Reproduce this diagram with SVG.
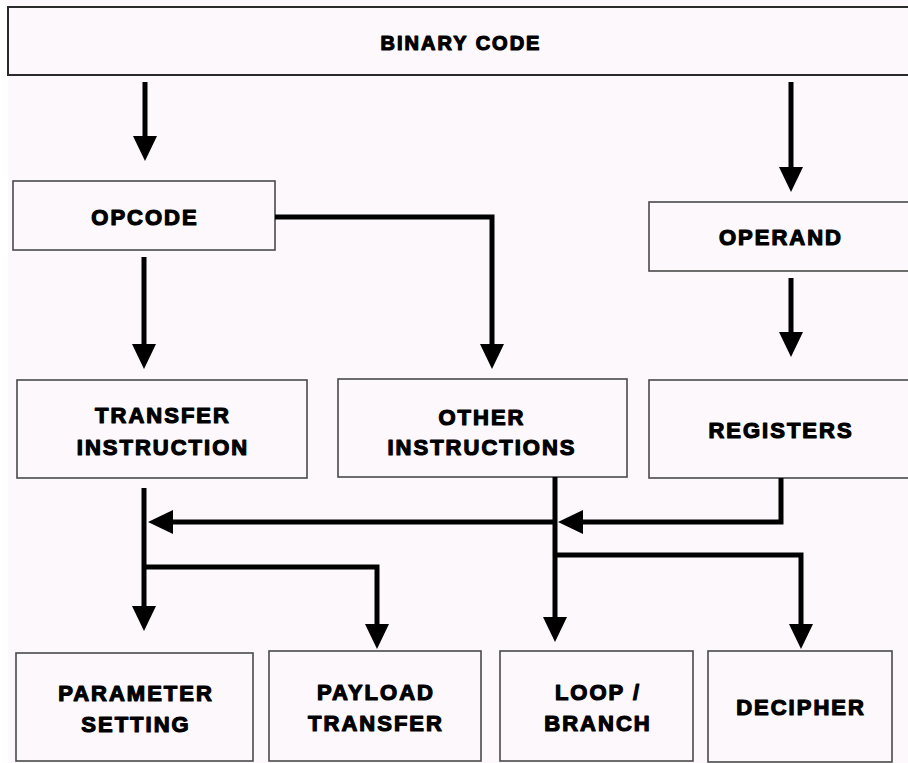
<svg xmlns="http://www.w3.org/2000/svg" width="908" height="763" viewBox="0 0 908 763">
<style>
.box{fill:#fcf8fc;stroke:#4a4a4a;stroke-width:1.6}
.lbl{font-family:"Liberation Sans",Arial,sans-serif;font-weight:bold;font-size:22px;letter-spacing:2px;fill:#000;stroke:#000;stroke-width:1.2;stroke-linejoin:round;text-anchor:middle}
.con{fill:none;stroke:#000;stroke-width:5;stroke-linejoin:miter;stroke-linecap:butt}
</style>
<defs>
<marker id="ah" viewBox="0 0 25 24" markerWidth="25" markerHeight="24" markerUnits="userSpaceOnUse" refX="1" refY="12" orient="auto">
<path d="M0,0 L25,12 L0,24 Z" fill="#000"/>
</marker>
</defs>
<rect x="0" y="0" width="908" height="763" fill="#ffffff"/>
<rect x="8" y="0" width="900" height="763" fill="#fcf8fc"/>

<g id="binary-code">
<rect class="box" x="8" y="7" width="910" height="68" style="stroke:#2a2a2a;stroke-width:2"/>
<text class="lbl" x="461" y="50" style="font-size:20px;letter-spacing:2px">BINARY CODE</text>
</g>
<g id="opcode">
<rect class="box" x="13" y="181" width="262" height="69"/>
<text class="lbl" x="145" y="225">OPCODE</text>
</g>
<g id="operand">
<rect class="box" x="649" y="202" width="270" height="69"/>
<text class="lbl" x="781" y="245">OPERAND</text>
</g>
<g id="transfer-instruction">
<rect class="box" x="17" y="380" width="290" height="98"/>
<text class="lbl" x="163" y="423">TRANSFER</text>
<text class="lbl" x="163" y="455">INSTRUCTION</text>
</g>
<g id="other-instructions">
<rect class="box" x="338" y="379" width="289" height="98"/>
<text class="lbl" x="482" y="425">OTHER</text>
<text class="lbl" x="482" y="455">INSTRUCTIONS</text>
</g>
<g id="registers">
<rect class="box" x="649" y="380" width="270" height="98"/>
<text class="lbl" x="781" y="438">REGISTERS</text>
</g>
<g id="parameter-setting">
<rect class="box" x="16" y="653" width="237" height="108"/>
<text class="lbl" x="136" y="701">PARAMETER</text>
<text class="lbl" x="136" y="732">SETTING</text>
</g>
<g id="payload-transfer">
<rect class="box" x="269" y="651" width="212" height="110"/>
<text class="lbl" x="376" y="700">PAYLOAD</text>
<text class="lbl" x="376" y="731">TRANSFER</text>
</g>
<g id="loop-branch">
<rect class="box" x="500" y="651" width="193" height="110"/>
<text class="lbl" x="598" y="700">LOOP /</text>
<text class="lbl" x="598" y="731">BRANCH</text>
</g>
<g id="decipher">
<rect class="box" x="708" y="651" width="184" height="111"/>
<text class="lbl" x="801" y="715">DECIPHER</text>
</g>

<g id="connectors">
<path class="con" d="M145,82 V137" marker-end="url(#ah)"/>
<path class="con" d="M791,82 V168" marker-end="url(#ah)"/>
<path class="con" d="M144,257 V345" marker-end="url(#ah)"/>
<path class="con" d="M275,217 H492 V345" marker-end="url(#ah)"/>
<path class="con" d="M791,278 V333" marker-end="url(#ah)"/>
<path class="con" d="M144,488 V607" marker-end="url(#ah)"/>
<path class="con" d="M781,478 V522 H582" marker-end="url(#ah)"/>
<path class="con" d="M557,522 H172" marker-end="url(#ah)"/>
<path class="con" d="M555,477 V618" marker-end="url(#ah)"/>
<path class="con" d="M555,555 H801 V625" marker-end="url(#ah)"/>
<path class="con" d="M144,567 H377 V625" marker-end="url(#ah)"/>
</g>
</svg>
